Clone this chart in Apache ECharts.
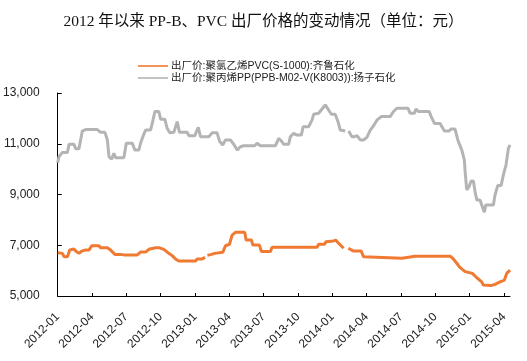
<!DOCTYPE html>
<html>
<head>
<meta charset="utf-8">
<script src="https://cdn.jsdelivr.net/npm/echarts@6/dist/echarts.min.js"></script>
<style>html,body{margin:0;padding:0;background:#fff}#c{width:527px;height:361px}</style>
</head>
<body>
<div id="c"></div>
<script>
// month index from 2012-01 (0) ; fractional months
const tickMonths = [0,3,6,9,12,15,18,21,24,27,30,33,36,39];
const seriesNames = ['出厂价:聚氯乙烯PVC(S-1000):齐鲁石化', '出厂价:聚丙烯PP(PPB-M02-V(K8003)):扬子石化'];

const pvcMonths = [0,0.41,0.55,0.85,1.05,1.42,1.63,1.86,2.09,2.44,2.73,2.97,3.6,3.75,4.34,4.62,5.0,5.5,5.78,6.95,7.24,7.68,7.97,8.55,8.9,9.27,9.71,10.01,10.29,10.58,12.04,12.19,12.62,12.88,12.95,13.08,13.44,13.72,14.42,14.66,15.01,15.24,15.53,16.34,16.46,16.93,17.04,17.62,17.8,18.58,18.73,22.66,22.8,23.32,23.44,24.1,24.31,24.54,24.98,25.2,25.4,25.85,26.52,26.72,26.87,30.07,30.21,31.23,34.29,34.57,34.87,35.16,35.6,36.23,36.62,37.05,37.19,37.86,38.21,38.65,39.03,39.23,39.52];
const pvcValues = [6700,6680,6550,6550,6810,6850,6750,6680,6770,6810,6810,6980,6980,6900,6900,6810,6640,6640,6620,6620,6730,6730,6840,6900,6900,6840,6680,6590,6460,6380,6380,6460,6460,6520,null,6600,6640,6680,6720,6980,7040,7400,7510,7510,7210,7210,7010,7010,6750,6750,6920,6920,7040,7040,7140,7170,7200,7080,6880,null,6880,6770,6770,6550,6490,6490,6550,6570,6570,6460,6290,6120,5960,5890,5720,5560,5430,5410,5460,5560,5630,5890,6020];

const ppMonths = [0,0.11,0.41,0.85,0.99,1.42,1.57,1.86,2.15,2.44,3.46,3.75,4.13,4.34,4.48,4.71,4.91,5.06,5.78,5.99,6.52,6.74,7.09,7.24,7.44,7.68,8.11,8.26,8.49,8.84,8.99,9.36,9.57,9.8,10.15,10.44,10.64,11.32,11.46,11.98,12.28,12.48,13.2,13.5,13.93,14.13,14.42,14.66,15.09,15.38,15.68,15.97,16.25,17.21,17.42,17.71,19.02,19.31,19.54,19.74,20.18,20.33,20.62,20.91,21.29,21.44,21.92,22.22,22.36,22.8,23.15,23.38,23.67,23.91,24.25,24.49,24.69,25.12,25.3,25.42,25.71,25.94,26.15,26.44,26.72,27.02,27.31,27.6,27.89,28.27,29.05,29.34,29.64,30.6,30.8,31.17,31.3,31.52,32.46,32.63,32.92,33.41,33.79,34.2,34.37,34.72,34.96,35.31,35.53,35.6,35.74,35.94,36.12,36.32,36.47,36.62,36.9,37.05,37.28,37.4,38.07,38.21,38.45,38.74,38.97,39.17,39.38,39.52];
const ppValues = [10250,10490,10660,10660,10980,10980,10800,10800,11500,11560,11560,11450,11450,11150,10490,10390,10620,10450,10450,11020,11020,10750,10750,11020,11280,11540,11540,11800,12270,12270,11970,11970,11600,11430,11450,11870,11450,11450,11320,11320,11650,11280,11280,11430,11430,11110,10950,11150,11150,10980,10750,10880,10920,10920,11020,10920,10920,11210,11110,10980,10980,11280,11410,11340,11340,11670,11670,11930,12160,12200,12400,12530,12330,12160,12160,11870,11540,11500,null,11500,11280,11280,11320,11150,11150,11250,11540,11710,11930,12070,12070,12270,12400,12400,12200,12200,12370,12270,12270,12070,11800,11800,11500,11500,11580,11580,11150,10750,10360,9900,9180,9310,9530,9530,9110,8780,8780,8590,8300,8590,8590,8980,9350,9350,9830,10160,10820,10950];

function pairs(xs, ys){ return xs.map((x,i)=>[x, ys[i]]); }
function monthLabel(v){
  const y = 2012 + Math.floor(v/12);
  const m = (v % 12) + 1;
  return y + '-' + (m < 10 ? '0' + m : m);
}

const chart = echarts.init(document.getElementById('c'), null, {renderer:'canvas'});
chart.setOption({
  animation:false,
  backgroundColor:'#fff',
  title:{
    text:'2012 年以来 PP-B、PVC 出厂价格的变动情况（单位：元）',
    left:'center', top:9,
    textStyle:{fontFamily:'Liberation Serif, Noto Sans CJK SC', fontSize:15.5, fontWeight:'normal', color:'#111'}
  },
  legend:{
    orient:'vertical', left:133, top:55, itemGap:0, itemWidth:30, itemHeight:8,
    icon:'path://M0,3.2L30,3.2L30,4.8L0,4.8Z',
    textStyle:{fontFamily:'Liberation Sans, Noto Sans CJK SC', fontSize:10.5, lineHeight:12, color:'#222', padding:[0,0,0,-2]},
    data:[seriesNames[0], seriesNames[1]]
  },
  grid:{left:57, right:17, top:93, bottom:65},
  xAxis:{
    type:'value', min:0, max:39.52,
    axisLine:{lineStyle:{color:'#000', width:1}},
    axisTick:{inside:true, length:3, lineStyle:{color:'#000'}, customValues:tickMonths},
    axisLabel:{rotate:45, margin:19, fontFamily:'Liberation Sans', fontSize:12, color:'#222',
      customValues:tickMonths, formatter:function(v){return monthLabel(v);}},
    splitLine:{show:false}
  },
  yAxis:{
    type:'value', min:5000, max:13000, interval:2000,
    axisLine:{show:true, lineStyle:{color:'#000', width:1}},
    axisTick:{show:true, inside:true, length:4, lineStyle:{color:'#000'}},
    axisLabel:{margin:18, fontFamily:'Liberation Sans', fontSize:12, color:'#222',
      formatter:function(v){return v.toLocaleString('en-US');}},
    splitLine:{show:false}
  },
  series:[
    {name:seriesNames[0], type:'line', data:pairs(pvcMonths, pvcValues), showSymbol:false, clip:false,
      lineStyle:{color:'#F07A32', width:3}, itemStyle:{color:'#F07A32'}},
    {name:seriesNames[1], type:'line', data:pairs(ppMonths, ppValues), showSymbol:false, clip:false,
      lineStyle:{color:'#B4B4B4', width:3}, itemStyle:{color:'#B4B4B4'}}
  ]
});
</script>
</body>
</html>
